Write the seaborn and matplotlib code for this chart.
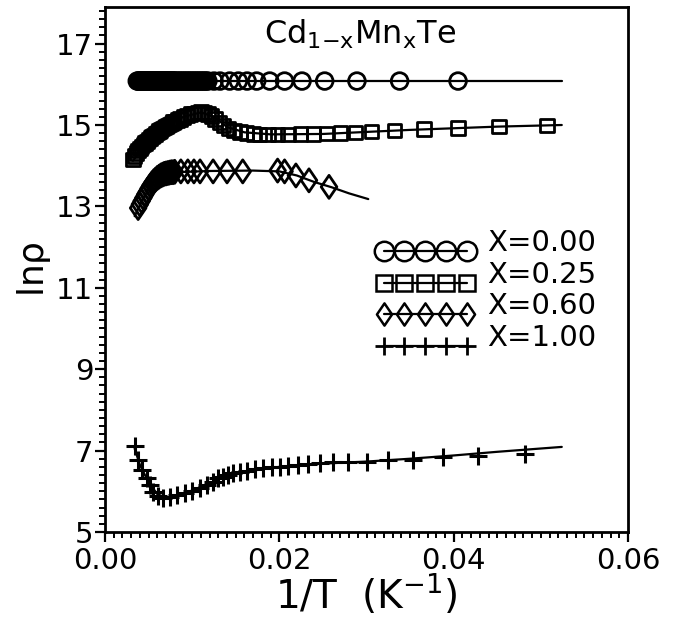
import numpy as np
import seaborn as sns
import matplotlib.pyplot as plt
from matplotlib.lines import Line2D
from matplotlib.path import Path
from matplotlib.ticker import MultipleLocator
from matplotlib.legend_handler import HandlerLine2D

# values: x = 1/T (K^-1), y = ln(rho)
# X = 0.00
x000 = [0.0037, 0.0038, 0.0039, 0.0040, 0.0041, 0.0042, 0.0043, 0.0044, 0.0045,
        0.0046, 0.0047, 0.0048, 0.0049, 0.0050, 0.0051, 0.0052, 0.0053, 0.0054,
        0.0055, 0.0056, 0.0057, 0.0058, 0.0059, 0.0060, 0.0061, 0.0062, 0.0063,
        0.0064, 0.0065, 0.0066, 0.0067, 0.0068, 0.0069, 0.0070, 0.0071, 0.0072,
        0.0073, 0.0074, 0.0075, 0.0076, 0.0077, 0.0078, 0.0079, 0.0080, 0.0082,
        0.0084, 0.0086, 0.0088, 0.0090, 0.0092, 0.0094, 0.0096, 0.0098, 0.0100,
        0.0102, 0.0104, 0.0106, 0.0108, 0.0110, 0.0112, 0.0114, 0.0116, 0.0118,
        0.0125, 0.0132, 0.0143, 0.0153, 0.0163, 0.0174, 0.0189, 0.0206, 0.0226,
        0.0252, 0.0289, 0.0338, 0.0405]
y000 = [16.08, 16.08, 16.08, 16.08, 16.08, 16.08, 16.08, 16.08, 16.08,
        16.08, 16.08, 16.08, 16.08, 16.08, 16.08, 16.08, 16.08, 16.08,
        16.08, 16.08, 16.08, 16.08, 16.08, 16.08, 16.08, 16.08, 16.08,
        16.08, 16.08, 16.08, 16.08, 16.08, 16.08, 16.08, 16.08, 16.08,
        16.08, 16.08, 16.08, 16.08, 16.08, 16.08, 16.08, 16.08, 16.08,
        16.08, 16.08, 16.08, 16.08, 16.08, 16.08, 16.08, 16.08, 16.08,
        16.08, 16.08, 16.08, 16.08, 16.08, 16.08, 16.08, 16.08, 16.08,
        16.08, 16.08, 16.08, 16.08, 16.08, 16.08, 16.08, 16.08, 16.08,
        16.08, 16.08, 16.08, 16.08]
fit_x000 = [0.0037, 0.0524]
fit_y000 = [16.08, 16.08]

# X = 0.25
x025 = [0.0032, 0.0034, 0.0036, 0.0038, 0.0040, 0.0042, 0.0044, 0.0046, 0.0048,
        0.0050, 0.0052, 0.0054, 0.0056, 0.0058, 0.0060, 0.0062, 0.0064, 0.0066,
        0.0068, 0.0070, 0.0072, 0.0074, 0.0076, 0.0078, 0.0080, 0.0083, 0.0086,
        0.0090, 0.0094, 0.0098, 0.0102, 0.0106, 0.0110, 0.0114, 0.0118, 0.0122,
        0.0126, 0.0131, 0.0136, 0.0142, 0.0148, 0.0155, 0.0162, 0.0170, 0.0177,
        0.0187, 0.0198, 0.0210, 0.0224, 0.0239, 0.0254, 0.0270, 0.0287, 0.0306,
        0.0332, 0.0366, 0.0405, 0.0452, 0.0507]
y025 = [14.16, 14.24, 14.31, 14.37, 14.43, 14.48, 14.52, 14.56, 14.60,
        14.64, 14.68, 14.71, 14.75, 14.78, 14.82, 14.85, 14.88, 14.91,
        14.94, 14.96, 14.99, 15.02, 15.04, 15.07, 15.09, 15.12, 15.15,
        15.20, 15.24, 15.27, 15.29, 15.31, 15.32, 15.31, 15.27, 15.22,
        15.15, 15.06, 14.98, 14.92, 14.87, 14.83, 14.80, 14.78, 14.77,
        14.77, 14.77, 14.77, 14.78, 14.78, 14.79, 14.80, 14.82, 14.84,
        14.86, 14.90, 14.93, 14.96, 14.98]
fit_x025 = [0.0032, 0.0050, 0.0070, 0.0090, 0.0110, 0.0125, 0.0140, 0.0160,
            0.0190, 0.0250, 0.0350, 0.0450, 0.0524]
fit_y025 = [14.12, 14.62, 14.97, 15.20, 15.31, 15.20, 14.95, 14.82,
            14.77, 14.78, 14.88, 14.96, 15.00]

# X = 0.60
x060 = [0.0038, 0.0040, 0.0042, 0.0044, 0.0046, 0.0048, 0.0050, 0.0052, 0.0054,
        0.0056, 0.0058, 0.0060, 0.0062, 0.0064, 0.0066, 0.0068, 0.0070, 0.0072,
        0.0074, 0.0076, 0.0078, 0.0080, 0.0087, 0.0095, 0.0102, 0.0109, 0.0124,
        0.0140, 0.0158, 0.0198, 0.0206, 0.0219, 0.0234, 0.0257]
y060 = [12.96, 13.05, 13.13, 13.21, 13.29, 13.36, 13.44, 13.51, 13.57,
        13.62, 13.66, 13.70, 13.73, 13.76, 13.78, 13.80, 13.81, 13.82,
        13.83, 13.84, 13.84, 13.85, 13.86, 13.86, 13.86, 13.86, 13.86,
        13.86, 13.86, 13.88, 13.86, 13.76, 13.64, 13.48]
fit_x060 = [0.0034, 0.0045, 0.0055, 0.0065, 0.0080, 0.0120, 0.0170, 0.0200,
            0.0220, 0.0240, 0.0260, 0.0280, 0.0302]
fit_y060 = [12.76, 13.25, 13.58, 13.76, 13.84, 13.87, 13.88, 13.86,
            13.76, 13.60, 13.47, 13.32, 13.18]

# X = 1.00
x100 = [0.0034, 0.0038, 0.0042, 0.0048, 0.0052, 0.0055, 0.0061, 0.0067, 0.0075,
        0.0083, 0.0092, 0.0100, 0.0109, 0.0117, 0.0124, 0.0130, 0.0135, 0.0141,
        0.0147, 0.0155, 0.0163, 0.0172, 0.0181, 0.0192, 0.0201, 0.0210, 0.0221,
        0.0233, 0.0247, 0.0262, 0.0279, 0.0300, 0.0325, 0.0353, 0.0388, 0.0428,
        0.0482]
y100 = [7.12, 6.77, 6.53, 6.33, 6.16, 5.99, 5.89, 5.84, 5.86,
        5.91, 5.96, 6.01, 6.08, 6.16, 6.23, 6.33, 6.35, 6.40,
        6.45, 6.48, 6.50, 6.55, 6.58, 6.60, 6.60, 6.63, 6.65,
        6.67, 6.70, 6.72, 6.72, 6.72, 6.77, 6.77, 6.85, 6.87,
        6.92]
fit_x100 = [0.0034, 0.0040, 0.0050, 0.0060, 0.0070, 0.0080, 0.0100, 0.0120,
            0.0140, 0.0160, 0.0200, 0.0250, 0.0300, 0.0350, 0.0400, 0.0450, 0.0524]
fit_y100 = [7.05, 6.65, 6.22, 5.93, 5.84, 5.87, 6.02, 6.20,
            6.38, 6.48, 6.60, 6.68, 6.73, 6.80, 6.88, 6.97, 7.09]

labels = ['X=0.00', 'X=0.25', 'X=0.60', 'X=1.00']
xticks = [0.0, 0.02, 0.04, 0.06]
xtick_labels = ['0.00', '0.02', '0.04', '0.06']
yticks = [5, 7, 9, 11, 13, 15, 17]

sns.set_theme(style='ticks')
plt.rcParams['font.family'] = ['DejaVu Sans']
plt.rcParams['mathtext.default'] = 'regular'
plt.rcParams['text.color'] = 'black'

# narrow diamond like the original symbol
thin_diamond = Path([(0, 1), (0.68, 0), (0, -1), (-0.68, 0), (0, 1)],
                    [Path.MOVETO, Path.LINETO, Path.LINETO, Path.LINETO, Path.CLOSEPOLY])

fig = plt.figure(figsize=(6.81, 6.18), dpi=100)
ax = fig.add_axes([0.1542, 0.1392, 0.768, 0.8495])

# fitted curves
for fx, fy in [(fit_x000, fit_y000), (fit_x025, fit_y025),
               (fit_x060, fit_y060), (fit_x100, fit_y100)]:
    sns.lineplot(x=fx, y=fy, color='black', linewidth=1.6, ax=ax)

# measured points
sns.scatterplot(x=x000, y=y000, marker='o', s=144, facecolor='none',
                edgecolor='black', linewidth=2.0, ax=ax, zorder=3)
sns.scatterplot(x=x025, y=y025, marker='s', s=92, facecolor='none',
                edgecolor='black', linewidth=2.0, ax=ax, zorder=3)
sns.scatterplot(x=x060, y=y060, marker=thin_diamond, s=275, facecolor='none',
                edgecolor='black', linewidth=2.0, ax=ax, zorder=3)
sns.scatterplot(x=x100, y=y100, marker='+', s=160, color='black',
                linewidth=2.2, ax=ax, zorder=3)

ax.set_xlim(0, 0.06)
ax.set_ylim(5, 17.9)
ax.set_xticks(xticks)
ax.set_xticklabels(xtick_labels)
ax.set_yticks(yticks)
ax.xaxis.set_minor_locator(MultipleLocator(0.001))
ax.yaxis.set_minor_locator(MultipleLocator(0.2))

for s in ax.spines.values():
    s.set_linewidth(2.0)
    s.set_color('black')
ax.tick_params(axis='both', which='major', length=7, width=1.6, labelsize=21,
               colors='black', direction='out')
ax.tick_params(axis='both', which='minor', length=4, width=1.4,
               colors='black', direction='out')
ax.tick_params(axis='y', which='major', pad=1.5)
ax.tick_params(axis='x', which='major', pad=4)

ax.set_xlabel(r'1/T  (K$^{-1}$)', fontsize=28, color='black', labelpad=-2)
ax.set_ylabel(r'ln$\rho$', fontsize=26, color='black', labelpad=2)

ax.text(0.487, 0.931, r'Cd$_{1{-}x}$Mn$_{x}$Te', transform=ax.transAxes,
        ha='center', va='baseline', fontsize=23, color='black')


class UnderlineHandler(HandlerLine2D):
    # draw the legend line under the row of symbols
    def create_artists(self, legend, orig_handle, xdescent, ydescent,
                       width, height, fontsize, trans):
        arts = super().create_artists(legend, orig_handle, xdescent, ydescent,
                                      width, height, fontsize, trans)
        line = arts[0]
        line.set_ydata(np.asarray(line.get_ydata()) - 0.36 * fontsize)
        return arts


handles = [
    Line2D([], [], color='black', lw=1.6, marker='o', ms=14, mfc='none', mec='black', mew=1.8),
    Line2D([], [], color='black', lw=1.6, marker='s', ms=11.5, mfc='none', mec='black', mew=1.8),
    Line2D([], [], color='black', lw=1.6, marker=thin_diamond, ms=16, mfc='none', mec='black', mew=1.8),
    Line2D([], [], color='black', lw=1.6, marker='+', ms=13, mec='black', mew=2.0),
]
ax.legend(handles, labels, handler_map={Line2D: UnderlineHandler(numpoints=5)},
          loc='upper left', bbox_to_anchor=(0.516, 0.577), frameon=False,
          fontsize=21, borderpad=0, borderaxespad=0, handlelength=3.45,
          handletextpad=0.4, labelspacing=0.12, labelcolor='black')

fig.savefig('out.png', dpi=100)
